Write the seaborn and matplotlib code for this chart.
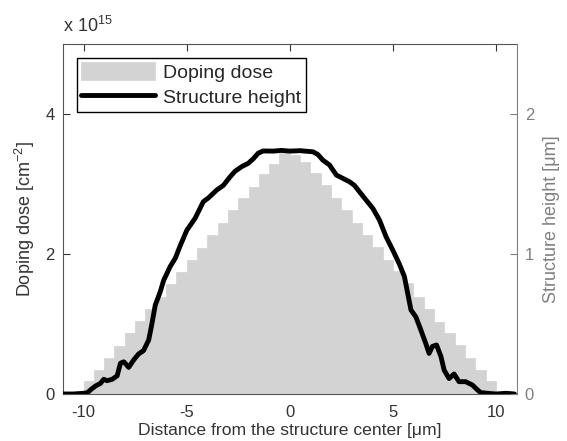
import numpy as np
import pandas as pd
import matplotlib
matplotlib.use("Agg")
import matplotlib.pyplot as plt
import seaborn as sns

# doping dose per 0.5 um bin (x 1e15 cm^-2), bin centers from -9.75 to 9.75
dose_x = np.arange(-9.75, 10.0, 0.5)
dose = [0.18, 0.34, 0.52, 0.69, 0.87, 1.04, 1.22, 1.39, 1.57, 1.74,
        1.91, 2.09, 2.27, 2.45, 2.63, 2.80, 2.96, 3.14, 3.29, 3.44,
        3.42, 3.31, 3.16, 2.99, 2.80, 2.63, 2.44, 2.27, 2.10, 1.91,
        1.75, 1.58, 1.39, 1.22, 1.03, 0.87, 0.70, 0.51, 0.34, 0.18]

# measured structure height profile (um)
height_x = [-11.0, -10.5, -10.0, -9.8, -9.66, -9.42, -9.18, -9.02, -8.86, -8.61,
            -8.37, -8.21, -8.05, -7.81, -7.57, -7.33, -7.09, -6.84, -6.68, -6.52,
            -6.28, -6.12, -5.8, -5.55, -5.31, -4.99, -4.59, -4.19, -3.95, -3.54,
            -3.22, -2.9, -2.66, -2.33, -2.01, -1.77, -1.53, -1.29, -0.8, -0.4,
            0.0, 0.5, 1.13, 1.37, 1.61, 1.93, 2.26, 2.58, 2.9, 3.14,
            3.38, 3.7, 4.03, 4.35, 4.67, 4.99, 5.31, 5.56, 5.72, 5.88,
            6.12, 6.36, 6.6, 6.76, 6.92, 7.12, 7.33, 7.49, 7.73, 7.97,
            8.21, 8.53, 8.86, 9.1, 9.26, 9.6, 10.0, 10.5, 10.9]
height = [0.0, 0.0, 0.005, 0.01, 0.03, 0.057, 0.076, 0.105, 0.095, 0.105,
          0.13, 0.22, 0.23, 0.19, 0.243, 0.286, 0.31, 0.386, 0.505, 0.636,
          0.73, 0.81, 0.91, 0.97, 1.06, 1.17, 1.255, 1.374, 1.4, 1.457,
          1.49, 1.55, 1.59, 1.624, 1.648, 1.68, 1.72, 1.736, 1.735, 1.74,
          1.735, 1.738, 1.73, 1.71, 1.67, 1.636, 1.564, 1.54, 1.516, 1.49,
          1.445, 1.386, 1.326, 1.243, 1.124, 1.03, 0.93, 0.84, 0.72, 0.6,
          0.55, 0.457, 0.36, 0.29, 0.34, 0.35, 0.27, 0.17, 0.11, 0.143,
          0.088, 0.088, 0.064, 0.03, 0.01, 0.005, 0.0, 0.005, 0.0]

sns.set_style("white")
plt.rcParams['font.family'] = ['Liberation Sans', 'DejaVu Sans']
plt.rcParams['mathtext.fontset'] = 'custom'
plt.rcParams['mathtext.rm'] = 'Liberation Sans'
plt.rcParams['font.size'] = 12

left_col = '#333333'
right_col = '#808080'

fig = plt.figure(figsize=(5.67, 4.41), dpi=100)
ax = fig.add_axes([0.111, 0.1066, 0.8, 0.7936])

df_dose = pd.DataFrame({'x': dose_x, 'dose': dose})
sns.barplot(data=df_dose, x='x', y='dose', native_scale=True, width=1.0,
            color='#d3d3d3', saturation=1, errorbar=None,
            edgecolor='#d3d3d3', linewidth=0.5, ax=ax)
ax.set_xlim(-11, 11)
ax.set_ylim(0, 5)
ax.set_xticks([-10, -5, 0, 5, 10])
ax.set_xticklabels(['-10', '-5', '0', '5', '10'])
ax.set_yticks([0, 2, 4])
ax.set_yticklabels(['0', '2', '4'])
ax.set_xlabel('Distance from the structure center [\u03bcm]', color=left_col,
              labelpad=2, fontsize=12.6)
ax.set_ylabel('Doping dose [cm$^{-2}$]', color=left_col, labelpad=6, fontsize=13)
ax.tick_params(axis='y', direction='in', length=5, right=False,
               colors=left_col, labelsize=12, pad=6)
ax.tick_params(axis='x', direction='in', length=5, top=True,
               colors=left_col, labelsize=12, pad=8)
for s in ['left', 'bottom', 'top']:
    ax.spines[s].set_color('#555555')
ax.spines['right'].set_visible(False)
ax.text(0, 1.022, 'x 10$^{15}$', transform=ax.transAxes, color=left_col,
        fontsize=13, ha='left', va='bottom')

ax2 = ax.twinx()
df_h = pd.DataFrame({'x': height_x, 'h': height})
sns.lineplot(data=df_h, x='x', y='h', color='black', linewidth=3.5,
             estimator=None, sort=False, ax=ax2)
ax2.set_ylim(0, 2.5)
ax2.set_xlim(-11, 11)
ax2.set_yticks([0, 1, 2])
ax2.set_yticklabels(['0', '1', '2'])
ax2.set_ylabel('Structure height [\u03bcm]', color=right_col, labelpad=6, fontsize=13)
ax2.set_xlabel('')
ax2.tick_params(direction='in', length=5, colors=right_col, labelsize=12, pad=6)
ax2.spines['right'].set_color(right_col)
for s in ['left', 'bottom', 'top']:
    ax2.spines[s].set_visible(False)

leg = ax2.legend([ax.patches[0], ax2.lines[0]], ['Doping dose', 'Structure height'],
                 loc='upper left', fancybox=False, framealpha=1, edgecolor='black',
                 handlelength=3.8, handleheight=1.0, handletextpad=0.4,
                 labelspacing=0.3, borderpad=0.25, borderaxespad=0.7, fontsize=14)
leg.get_frame().set_linewidth(1.0)

fig.savefig('out.png', dpi=100)
